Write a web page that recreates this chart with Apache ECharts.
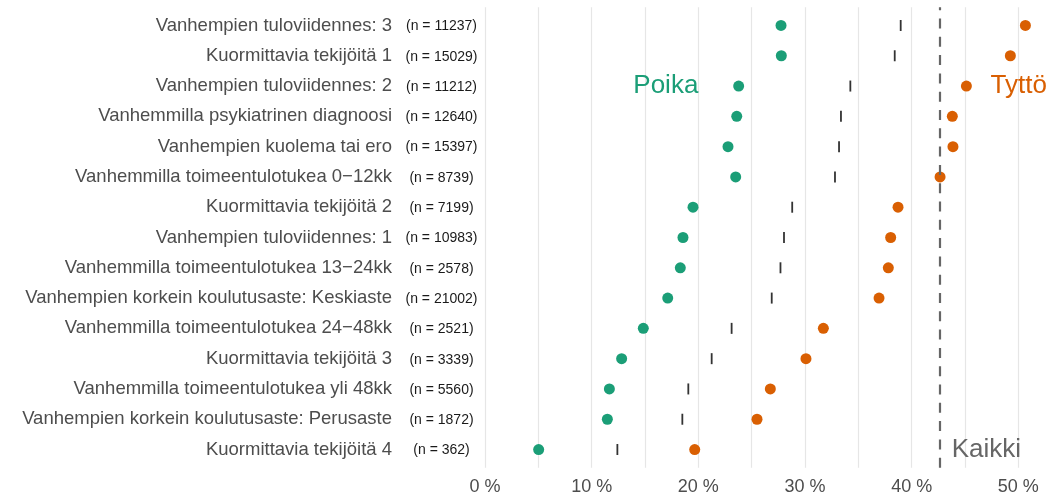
<!DOCTYPE html>
<html>
<head>
<meta charset="utf-8">
<script src="https://cdn.jsdelivr.net/npm/echarts@6/dist/echarts.min.js"></script>
<style>html,body{margin:0;padding:0;background:#fff}#c{width:1063px;height:497px}</style>
</head>
<body>
<div id="c"></div>
<script>
const categories = [
  'Vanhempien tuloviidennes: 3',
  'Kuormittavia tekijöitä 1',
  'Vanhempien tuloviidennes: 2',
  'Vanhemmilla psykiatrinen diagnoosi',
  'Vanhempien kuolema tai ero',
  'Vanhemmilla toimeentulotukea 0\u221212kk',
  'Kuormittavia tekijöitä 2',
  'Vanhempien tuloviidennes: 1',
  'Vanhemmilla toimeentulotukea 13\u221224kk',
  'Vanhempien korkein koulutusaste: Keskiaste',
  'Vanhemmilla toimeentulotukea 24\u221248kk',
  'Kuormittavia tekijöitä 3',
  'Vanhemmilla toimeentulotukea yli 48kk',
  'Vanhempien korkein koulutusaste: Perusaste',
  'Kuormittavia tekijöitä 4'
];
const nValues = [11237, 15029, 11212, 12640, 15397, 8739, 7199, 10983, 2578, 21002, 2521, 3339, 5560, 1872, 362];
const boys   = [27.75, 27.78, 23.78, 23.6, 22.78, 23.5, 19.5, 18.56, 18.31, 17.13, 14.84, 12.81, 11.66, 11.47, 5.03];
const girls  = [50.66, 49.25, 45.13, 43.81, 43.87, 42.66, 38.72, 38.03, 37.81, 36.94, 31.72, 30.09, 26.75, 25.5, 19.66];
const totals = [38.97, 38.41, 34.25, 33.37, 33.19, 32.81, 28.8, 28.03, 27.7, 26.88, 23.12, 21.25, 19.06, 18.5, 12.41];
const overall = 42.6;
const xTickLabels = [0, 10, 20, 30, 40, 50];
const annotations = [
  { text: 'Poika', x: 20, row: 2, side: 'left', color: '#1b9e77' },
  { text: 'Tyttö', x: 47.4, row: 2, side: 'right', color: '#d95f02' },
  { text: 'Kaikki', x: 43.75, row: 14, side: 'right', color: '#666666' }
];

const FONT = 'Liberation Sans, Arial, Helvetica, sans-serif';
const chart = echarts.init(document.getElementById('c'), null, { renderer: 'canvas' });
const X_MIN = 0, X_MAX = 54.5;
const rowH = 460.4 / 15.2;

const option = {
  animation: false,
  textStyle: { fontFamily: FONT },
  grid: [
    { left: 485, top: 7.3, width: X_MAX * 10.667, height: 460.4, outerBoundsMode: 'none' },
    { left: 485, top: 7.3 + 0.1 * rowH, width: X_MAX * 10.667, height: 15 * rowH, outerBoundsMode: 'none' }
  ],
  xAxis: [
    {
      gridIndex: 0, type: 'value', min: X_MIN, max: X_MAX, interval: 5,
      axisLine: { show: false }, axisTick: { show: false },
      splitLine: { show: true, lineStyle: { color: '#e6e6e6', width: 1.2 } },
      axisLabel: {
        margin: 10, fontSize: 18, color: '#4d4d4d', fontFamily: FONT,
        showMaxLabel: false,
        formatter: v => xTickLabels.indexOf(Math.round(v * 1000) / 1000) >= 0 ? v + ' %' : ''
      }
    },
    { gridIndex: 1, type: 'value', min: X_MIN, max: X_MAX, show: false }
  ],
  yAxis: [
    { gridIndex: 0, type: 'value', min: 0, max: 1, show: false },
    {
      gridIndex: 1, type: 'category', data: categories, inverse: true,
      axisLine: { show: false }, axisTick: { show: false }, splitLine: { show: false },
      axisLabel: {
        margin: 7, interval: 0,
        formatter: (v, i) => '{name|' + v + '}{gap| }{n|(n = ' + nValues[i] + ')}',
        rich: {
          name: { fontSize: 18.5, lineHeight: 22, color: '#4d4d4d', fontFamily: FONT },
          gap: { width: 13, fontSize: 10, lineHeight: 22 },
          n: { fontSize: 14, lineHeight: 22, padding: [2, 0, 0, 0], color: '#1a1a1a', width: 73, align: 'center', fontFamily: FONT }
        }
      }
    }
  ],
  series: [
    {
      type: 'scatter', xAxisIndex: 0, yAxisIndex: 0, data: [], silent: true,
      markLine: {
        silent: true, symbol: 'none', label: { show: false },
        lineStyle: { color: '#666666', width: 2.2, type: [10, 8.3], opacity: 1 },
        data: [{ xAxis: overall }]
      }
    },
    {
      type: 'scatter', xAxisIndex: 1, yAxisIndex: 1, symbol: 'rect', symbolSize: [1.8, 11],
      itemStyle: { color: '#333333', opacity: 1 },
      data: totals.map((v, i) => [v, categories[i]])
    },
    {
      type: 'scatter', xAxisIndex: 1, yAxisIndex: 1, symbol: 'circle', symbolSize: 11,
      itemStyle: { color: '#1b9e77', opacity: 1 },
      data: boys.map((v, i) => [v, categories[i]])
    },
    {
      type: 'scatter', xAxisIndex: 1, yAxisIndex: 1, symbol: 'circle', symbolSize: 11,
      itemStyle: { color: '#d95f02', opacity: 1 },
      data: girls.map((v, i) => [v, categories[i]])
    },
    {
      type: 'scatter', xAxisIndex: 1, yAxisIndex: 1, symbolSize: 0, silent: true,
      itemStyle: { opacity: 1 },
      data: annotations.map(a => ({
        value: [a.x, categories[a.row]],
        label: {
          show: true, position: a.side, distance: 0, formatter: a.text,
          fontSize: 26, color: a.color, fontFamily: FONT, opacity: 1
        }
      }))
    }
  ]
};
chart.setOption(option);
</script>
</body>
</html>
